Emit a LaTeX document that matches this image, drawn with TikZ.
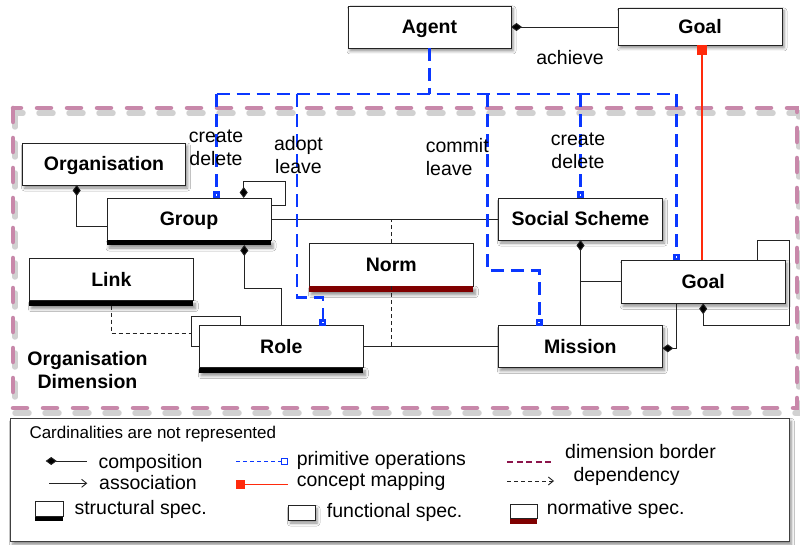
\documentclass[tikz,border=0pt]{standalone}
\usepackage{fontspec}
\setmainfont{Liberation Sans}
\usetikzlibrary{arrows.meta,shadows.blur}

\definecolor{primblue}{RGB}{10,55,255}
\definecolor{dimpink}{RGB}{200,136,170}
\definecolor{normred}{RGB}{128,0,0}
\definecolor{mapred}{RGB}{255,42,12}
\definecolor{linegray}{RGB}{35,35,35}
\definecolor{borderlegend}{RGB}{140,20,75}

\tikzset{
  box/.style={draw=linegray, line width=0.9pt, fill=white, minimum width=164pt,
    minimum height=42pt, inner sep=0pt, outer sep=0pt, text height=14pt, text depth=0pt,
    font=\fontsize{19.5}{23}\selectfont\bfseries},
  shadowed/.style={blur shadow={shadow xshift=2pt, shadow yshift=-3pt,
    shadow blur radius=3pt, shadow opacity=45}},
  conn/.style={draw=linegray, line width=0.9pt},
  compdia/.tip={Diamond[length=11pt,width=8pt,fill=black]},
  primsq/.tip={Square[length=6.5pt,width=6.5pt,fill=white]},
  prim/.style={draw=primblue, line width=2.4pt, dash pattern=on 13pt off 7pt},
  dep/.style={draw=linegray, line width=0.9pt, dash pattern=on 4pt off 3pt},
  lbl/.style={font=\fontsize{19.5}{23}\selectfont, align=center, inner sep=0pt},
  legtxt/.style={font=\fontsize{19.5}{23}\selectfont, anchor=base west, inner sep=0pt},
}

\begin{document}
\begin{tikzpicture}[x=1pt,y=-1pt]
\useasboundingbox[fill=white] (0,0) rectangle (800,545);

% organisation dimension border
\draw[black!40, opacity=0.45, line width=5.5pt, line cap=round, dash pattern=on 14pt off 16pt]
  (15,113) rectangle (799,413);
\draw[dimpink, line width=4.5pt, line cap=round, dash pattern=on 14pt off 16pt]
  (13,108) rectangle (797,408);

% classes
\node[box, shadowed, minimum width=163pt] (agent) at (429.5,27) {Agent};
\node[box, shadowed, minimum height=37pt] (goaltop) at (700,26.5) {Goal};
\node[box, shadowed, minimum width=163pt] (org) at (104,164) {Organisation};
\node[box] (grp) at (189,219) {Group};
\node[box] (link) at (111.3,279.7) {Link};
\node[box] (role) at (281.3,346.7) {Role};
\node[box, minimum height=43pt] (norm) at (391.3,264.7) {Norm};
\node[box, shadowed] (ss) at (580.5,219) {Social Scheme};
\node[box, shadowed, minimum height=43pt] (goal2) at (703.2,281.8) {Goal};
\node[box, shadowed] (mission) at (580.3,346.7) {Mission};

% structural and normative bars
\fill[black, shadowed] (grp.south west) rectangle ([yshift=-5pt]grp.south east);
\fill[black, shadowed] (link.south west) rectangle ([yshift=-5pt]link.south east);
\fill[black, shadowed] (role.south west) rectangle ([yshift=-5pt]role.south east);
\fill[normred, shadowed] (norm.south west) rectangle ([yshift=-5.5pt]norm.south east);

% agent composition
\draw[conn, compdia-] (agent.east) -- (agent.east -| goaltop.west);
\node[lbl] (achieve) at (570,58) {achieve};

% concept mapping
\draw[mapred, line width=1.8pt, {Square[length=10pt,width=10pt]}-]
  ([xshift=1.7pt]goaltop.south) -- ([xshift=-1.5pt]goal2.north);

% organisation structure
\draw[conn, compdia-] ([xshift=-27.3pt]org.south) |- ([yshift=-7pt]grp.west);
\draw[conn, compdia-] ([xshift=54.7pt]grp.north) |- (285,181.7) |- ([yshift=14pt]grp.east);
\draw[conn, compdia-] ([xshift=55.3pt,yshift=-5pt]grp.south) -- ++(0,43) -| (role.north);
\draw[dep] ([yshift=-5pt]link.south) |- (191.7,333.3);
\draw[conn] (role.west) -- (191.7,346.7) -- (191.7,316.7) -| ([xshift=-40.6pt]role.north);
\draw[conn] (grp.east) -- (ss.west);
\draw[conn] (role.east) -- (mission.west);
\draw[dep] (norm.north) -- (norm.north |- grp.east);
\draw[dep] (norm.south) -- (norm.south |- role.east);

% functional structure
\draw[conn, compdia-] (ss.south) -- (ss.south |- mission.north);
\draw[conn] (ss.south |- goal2.west) -- (goal2.west);
\draw[conn, -compdia] ([xshift=-27.2pt]goal2.south) |- ([yshift=-1.6pt]mission.east);
\draw[conn, -compdia] ([xshift=54.5pt]goal2.north) |- (789,240) |- (goal2.south |- 0,325.7) -- (goal2.south);

% primitive operations
\coordinate (bus) at (429.5,94.3);
\coordinate (busL) at (216.6,94.3);
\coordinate (busR) at (676.5,94.3);
\draw[prim] (agent.south) -- (bus);
\draw[prim] (busL) -- (busR);
\draw[prim, -primsq] (busL) -- ([xshift=27.6pt]grp.north);
\draw[prim, -primsq] (296.7,94.3) -- (296.7,297.3) -| ([xshift=41.4pt]role.north);
\draw[prim, -primsq] (487.3,94.3) -- (487.3,270.7) -| ([xshift=-41pt]mission.north);
\draw[prim, -primsq] (ss.north |- bus) -- (ss.north);
\draw[prim, -primsq] (busR) -- ([xshift=-26.7pt]goal2.north);

\node[lbl] (opgrp) at (216,148) {create\\delete};
\node[lbl] (oprole) at (298.5,155) {adopt\\leave};
\node[lbl, align=left, anchor=west] (opmis) at (425.7,157.5) {commit\\leave};
\node[lbl] (opss) at (578,150.5) {create\\delete};
\node[lbl, font=\fontsize{19.5}{23}\selectfont\bfseries] (dimname) at (87.5,370)
  {Organisation\\Dimension};

% legend
\draw[black!75, line width=1.5pt, fill=white, shadowed] (10.7,418.3) rectangle (789.3,541.7);
\node[legtxt, font=\fontsize{17}{20}\selectfont] (card) at (29.3,438.5) {Cardinalities are not represented};

\draw[conn, compdia-] (45.7,461) -- (86.7,461);
\node[legtxt] (lcomp) at (98.3,468.3) {composition};
\draw[conn, -{Straight Barb[length=5pt,width=8pt]}] (49,483.3) -- (87.3,483.3);
\node[legtxt] (lassoc) at (99,489) {association};
\fill[black] (35,516) rectangle (63.3,521);
\draw[linegray, line width=0.9pt, fill=white] (35,501.7) rectangle (63.3,516);
\node[legtxt] (lstruct) at (74.3,514.3) {structural spec.};

\draw[primblue, line width=1pt, dash pattern=on 4pt off 3pt,
  -{Square[length=7pt,width=7pt,fill=white]}] (236,461) -- (288.3,461);
\node[legtxt] (lprim) at (296.7,465) {primitive operations};
\draw[mapred, line width=1.2pt, {Square[length=9pt,width=9pt]}-] (236,484.5) -- (288.3,484.5);
\node[legtxt] (lmap) at (296.7,486.7) {concept mapping};
\draw[linegray, line width=0.9pt, fill=white, shadowed] (288.3,505.7) rectangle (315,520);
\node[legtxt] (lfunc) at (326.7,517.3) {functional spec.};

\draw[borderlegend, line width=2pt, dash pattern=on 6pt off 3.5pt] (507.3,462.3) -- (554,462.3);
\node[legtxt] (ldim) at (565,458.3) {dimension border};
\draw[dep, -{Straight Barb[length=5pt,width=8pt]}] (507.3,481) -- (554,481);
\node[legtxt] (ldep) at (573.3,481.7) {dependency};
\fill[normred] (510,518.3) rectangle (537.3,524);
\draw[linegray, line width=0.9pt, fill=white] (510,504) rectangle (537.3,518.3);
\node[legtxt] (lnorm) at (546.7,514) {normative spec.};
\end{tikzpicture}
\end{document}
